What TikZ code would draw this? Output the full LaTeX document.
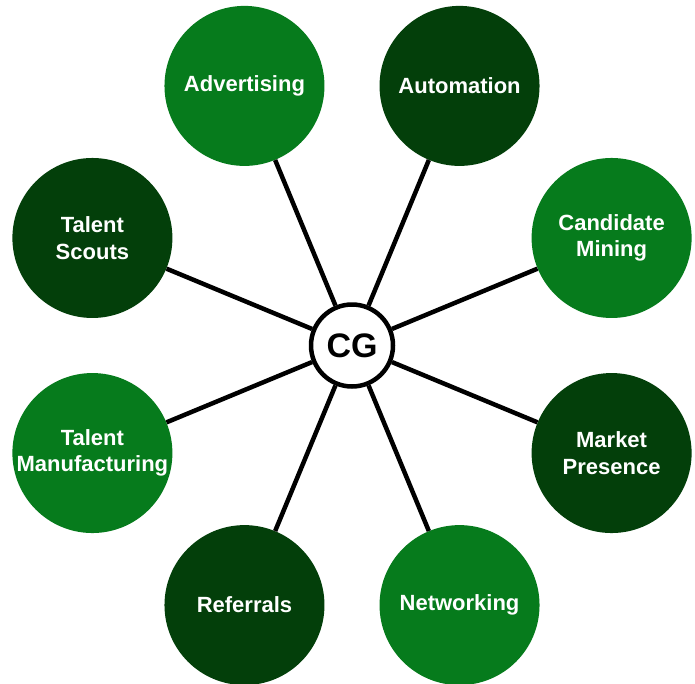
\documentclass[tikz,border=0pt]{standalone}
\usepackage{fontspec}
\setmainfont{Liberation Sans}
\usetikzlibrary{calc}
\definecolor{lightg}{HTML}{067B1C}
\definecolor{darkg}{HTML}{033F0A}
\tikzset{
  bubble/.style={circle, minimum size=160pt, inner sep=0pt, text=white, align=center,
    font=\fontsize{22pt}{26.5pt}\selectfont\bfseries},
  lightbubble/.style={bubble, fill=lightg},
  darkbubble/.style={bubble, fill=darkg},
  hub/.style={circle, draw=black, line width=4.5pt, fill=white, minimum size=82pt, inner sep=0pt,
    font=\fontsize{34pt}{38pt}\selectfont\bfseries},
  spoke/.style={line width=4.5pt, black}
}
\begin{document}
\begin{tikzpicture}[x=1pt,y=1pt]
\useasboundingbox (0,0) rectangle (695,-683);
\coordinate (c) at (352,-345.5);
\node[lightbubble] (adv) at ($(c)+(112.5:281)$) {Advertising};
\node[darkbubble] (aut) at ($(c)+(67.5:281)$) {Automation};
\node[lightbubble] (cm) at ($(c)+(22.5:281)$) {Candidate\\Mining};
\node[darkbubble] (mp) at ($(c)+(-22.5:281)$) {Market\\Presence};
\node[lightbubble] (net) at ($(c)+(-67.5:281)$) {Networking};
\node[darkbubble] (ref) at ($(c)+(-112.5:281)$) {Referrals};
\node[lightbubble] (tm) at ($(c)+(-157.5:281)$) {Talent\\Manufacturing};
\node[darkbubble] (ts) at ($(c)+(157.5:281)$) {Talent\\Scouts};
\node[hub] (cg) at (c) {CG};
\foreach \n in {adv,aut,cm,mp,net,ref,tm,ts} {
  \draw[spoke] (cg) -- (\n);
}
\end{tikzpicture}
\end{document}
